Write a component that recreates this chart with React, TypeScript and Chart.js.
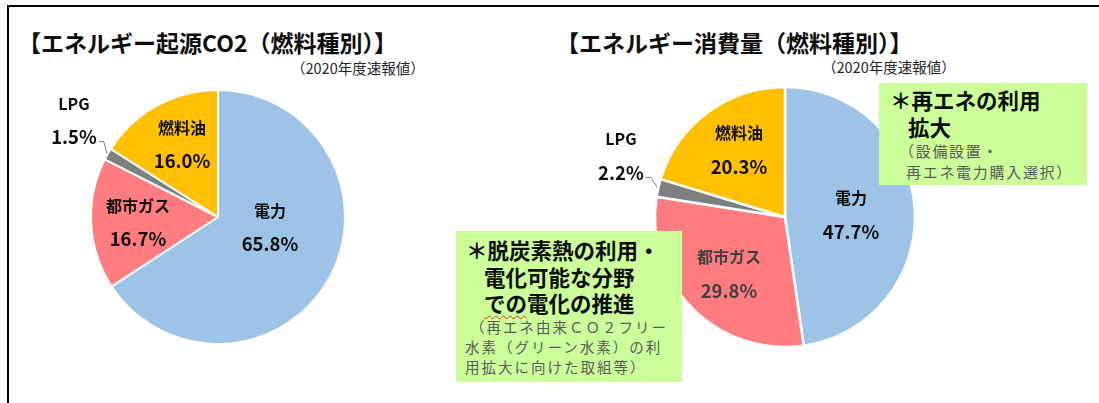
import React, { useEffect, useRef } from 'react';
import { Chart, registerables } from 'chart.js';

Chart.register(...registerables);

// ---- data ----
const categories = ['電力', '都市ガス', 'LPG', '燃料油'];
const co2Share = [65.8, 16.7, 1.5, 16.0];
const energyShare = [47.7, 29.8, 2.2, 20.3];
const sliceColors = ['#9DC3E6', '#FF7C80', '#7F7F7F', '#FFC000'];
const leftTitle = '【エネルギー起源CO2（燃料種別）】';
const rightTitle = '【エネルギー消費量（燃料種別）】';
const subTitle = '（2020年度速報値）';
const note1Bold = ['＊再エネの利用', '拡大'];
const note1Gray = ['（設備設置・', '再エネ電力購入選択）'];
const note2Bold = ['＊脱炭素熱の利用・', '電化可能な分野'];
const note2Gray = ['（再エネ由来ＣＯ２フリー', '水素（グリーン水素）の利', '用拡大に向けた取組等）'];

const FONT = '"Noto Sans CJK JP", "Noto Sans", sans-serif';

type PieProps = {
  values: number[];
  cx: number;
  cy: number;
  radius: number;
  size: number;
  border: number;
  labelPos: number[][];
  gap: number;
  labelColors: string[];
  leaderIndex: number;
};

function makeLabelPlugin(p: PieProps) {
  return {
    id: 'sliceLabels',
    afterDatasetsDraw(chart: any) {
      const ctx = chart.ctx;
      const meta = chart.getDatasetMeta(0);
      const data = chart.data.datasets[0].data as number[];
      meta.data.forEach((arc: any, i: number) => {
        const { x, y, outerRadius, startAngle, endAngle } = arc.getProps(
          ['x', 'y', 'outerRadius', 'startAngle', 'endAngle'],
          true
        );
        const r = p.radius;
        const [ux, uy] = p.labelPos[i];
        const lx = x + ux * r;
        const ly = y + uy * r;
        ctx.save();
        ctx.fillStyle = p.labelColors[i];
        ctx.textAlign = 'center';
        ctx.textBaseline = 'middle';
        ctx.font = `bold 16px ${FONT}`;
        ctx.fillText(chart.data.labels[i], lx, ly - p.gap / 2);
        const pct = data[i].toFixed(1) + '%';
        ctx.font = `bold 18.5px ${FONT}`;
        ctx.fillText(pct, lx, ly + p.gap / 2);
        if (i === p.leaderIndex) {
          const w = ctx.measureText(pct).width;
          const sx = lx + w / 2 + 2;
          const sy = ly + p.gap / 2 + 5;
          const mid = (startAngle + endAngle) / 2;
          const ex = x + Math.cos(mid) * (outerRadius + 1);
          const ey = y + Math.sin(mid) * (outerRadius + 1);
          ctx.strokeStyle = '#7F7F7F';
          ctx.lineWidth = 1;
          ctx.beginPath();
          ctx.moveTo(sx, sy);
          ctx.lineTo(sx + 5, sy);
          ctx.lineTo(ex, ey);
          ctx.stroke();
        }
        ctx.restore();
      });
    },
  };
}

function Pie(p: PieProps) {
  const ref = useRef<HTMLCanvasElement>(null);
  useEffect(() => {
    if (!ref.current) return;
    const chart = new Chart(ref.current, {
      type: 'pie',
      data: {
        labels: categories,
        datasets: [
          {
            data: p.values,
            backgroundColor: sliceColors,
            borderColor: '#FFFFFF',
            borderWidth: p.border,
            radius: p.radius,
          } as any,
        ],
      },
      options: {
        responsive: false,
        animation: false,
        layout: { padding: 0 },
        plugins: {
          legend: { display: false },
          tooltip: { enabled: false },
          title: { display: false },
        },
      },
      plugins: [makeLabelPlugin(p)],
    });
    return () => chart.destroy();
  }, []);
  return (
    <canvas
      ref={ref}
      width={p.size}
      height={p.size}
      style={{
        position: 'absolute',
        left: p.cx - p.size / 2,
        top: p.cy - p.size / 2,
        width: p.size,
        height: p.size,
      }}
    />
  );
}

function Text(props: {
  x: number;
  y: number;
  size: number;
  bold?: boolean;
  color?: string;
  spacing?: number;
  children: React.ReactNode;
}) {
  const h = props.size * 1.4;
  return (
    <div
      style={{
        position: 'absolute',
        left: props.x,
        top: props.y - h / 2,
        height: h,
        lineHeight: `${h}px`,
        fontSize: props.size,
        fontWeight: props.bold ? 700 : 400,
        color: props.color || '#0D0D0D',
        letterSpacing: props.spacing || 0,
        whiteSpace: 'nowrap',
        fontFamily: FONT,
      }}
    >
      {props.children}
    </div>
  );
}

export default function App() {
  const green = '#CCFF99';
  const grayText = '#5A5A5A';
  return (
    <div
      style={{
        position: 'fixed',
        left: 0,
        top: 0,
        width: 1099,
        height: 403,
        overflow: 'hidden',
        background: '#FFFFFF',
        fontFamily: FONT,
      }}
    >
      <div
        style={{
          position: 'absolute',
          left: 7,
          top: 5,
          width: 1200,
          height: 500,
          borderTop: '2px solid #000',
          borderLeft: '2px solid #000',
        }}
      />
      <Text x={18} y={42} size={23} bold>{leftTitle}</Text>
      <Text x={291} y={68} size={14.5} color="#262626">{subTitle}</Text>
      <Text x={556} y={42} size={23} bold>{rightTitle}</Text>
      <Text x={822} y={67} size={14.5} color="#262626">{subTitle}</Text>

      <Pie
        values={co2Share}
        cx={218}
        cy={217}
        radius={127}
        size={380}
        border={2}
        labelPos={[
          [0.409, 0.083],
          [-0.63, 0.043],
          [-1.134, -0.764],
          [-0.283, -0.571],
        ]}
        gap={33}
        labelColors={['#0D0D0D', '#0D0D0D', '#0D0D0D', '#0D0D0D']}
        leaderIndex={2}
      />
      <Pie
        values={energyShare}
        cx={785}
        cy={217}
        radius={130}
        size={400}
        border={2.5}
        labelPos={[
          [0.508, -0.019],
          [-0.431, 0.435],
          [-1.262, -0.473],
          [-0.354, -0.519],
        ]}
        gap={34}
        labelColors={['#0D0D0D', '#404040', '#0D0D0D', '#0D0D0D']}
        leaderIndex={2}
      />

      <div
        style={{
          position: 'absolute',
          left: 879,
          top: 83,
          width: 208,
          height: 102,
          background: green,
        }}
      />
      <Text x={890} y={100} size={21.5} bold>{note1Bold[0]}</Text>
      <Text x={908} y={127} size={21.5} bold>{note1Bold[1]}</Text>
      <Text x={899} y={150} size={15} color={grayText} spacing={1.7}>{note1Gray[0]}</Text>
      <Text x={906} y={171} size={15} color={grayText} spacing={1.7}>{note1Gray[1]}</Text>

      <div
        style={{
          position: 'absolute',
          left: 456,
          top: 231,
          width: 226,
          height: 151,
          background: green,
        }}
      />
      <Text x={466} y={250} size={21.5} bold>{note2Bold[0]}</Text>
      <Text x={484} y={277} size={21.5} bold>{note2Bold[1]}</Text>
      <Text x={484} y={303} size={21.5} bold>
        <span style={{ textDecoration: 'underline wavy #E03030', textDecorationThickness: 1, textUnderlineOffset: 3 }}>での</span>
        電化の推進
      </Text>
      <Text x={470} y={327} size={14.5} color={grayText} spacing={2}>{note2Gray[0]}</Text>
      <Text x={465} y={347} size={14.5} color={grayText} spacing={2}>{note2Gray[1]}</Text>
      <Text x={465} y={367} size={14.5} color={grayText} spacing={2}>{note2Gray[2]}</Text>
    </div>
  );
}
